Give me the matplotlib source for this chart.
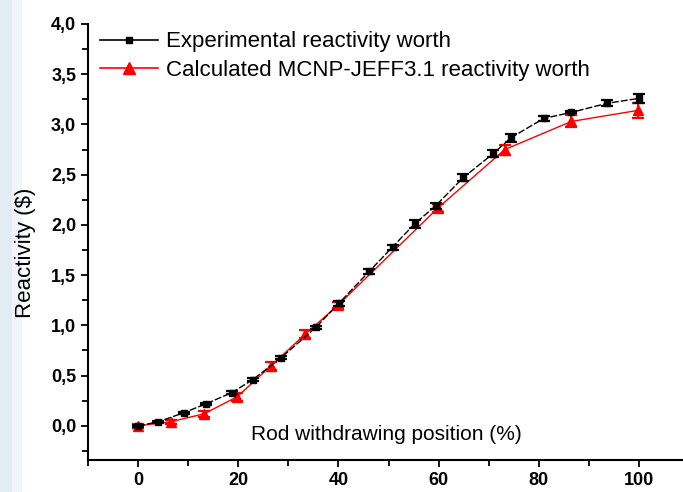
import matplotlib
matplotlib.use("Agg")
import matplotlib.pyplot as plt
from matplotlib.patches import Rectangle
from matplotlib.lines import Line2D
from matplotlib.ticker import MultipleLocator, FixedLocator, FixedFormatter

plt.rcParams['font.family'] = ['Liberation Sans', 'DejaVu Sans']

# Experimental reactivity worth
exp_x = [0, 4.0, 9.1, 13.6, 18.7, 22.9, 28.6, 35.5, 40.1, 46.2, 50.8, 55.2, 59.4, 64.9, 70.9, 74.5, 81.0, 86.5, 93.6, 100]
exp_y = [0.0, 0.04, 0.13, 0.22, 0.33, 0.46, 0.68, 0.98, 1.22, 1.54, 1.78, 2.01, 2.19, 2.47, 2.71, 2.87, 3.06, 3.12, 3.21, 3.26]
exp_err = [0.01, 0.01, 0.01, 0.01, 0.015, 0.015, 0.015, 0.015, 0.025, 0.025, 0.025, 0.04, 0.03, 0.035, 0.035, 0.04, 0.025, 0.01, 0.03, 0.045]

# Calculated MCNP-JEFF3.1 reactivity worth
calc_x = [0, 6.5, 13.2, 19.8, 26.6, 33.3, 39.9, 59.9, 73.2, 86.5, 99.8]
calc_y = [0.0, 0.04, 0.12, 0.29, 0.60, 0.91, 1.20, 2.17, 2.75, 3.03, 3.14]
calc_err = [0.02, 0.02, 0.03, 0.04, 0.04, 0.04, 0.03, 0.04, 0.05, 0.06, 0.075]

y_ticks = [0.0, 0.5, 1.0, 1.5, 2.0, 2.5, 3.0, 3.5, 4.0]
y_tick_labels = ['0,0', '0,5', '1,0', '1,5', '2,0', '2,5', '3,0', '3,5', '4,0']
x_ticks = [0, 20, 40, 60, 80, 100]
x_tick_labels = ['0', '20', '40', '60', '80', '100']

fig = plt.figure(figsize=(6.83, 4.92), dpi=100)
fig.patches.append(Rectangle((0, 0), 12/683, 1, transform=fig.transFigure,
                             facecolor='#e3ebf3', edgecolor='none', zorder=-2))
fig.patches.append(Rectangle((12/683, 0), 10/683, 1, transform=fig.transFigure,
                             facecolor='#f1f5f9', edgecolor='none', zorder=-2))
ax = fig.add_axes([88/683, 32/492, 1 - 88/683, (460-24)/492])
ax.patch.set_alpha(0)

ax.errorbar(exp_x, exp_y, yerr=exp_err, color='black', lw=1.0, ls=(0, (5, 1.5)),
            marker='s', ms=4.5, capsize=4, capthick=1.6, elinewidth=1.4, zorder=3)
ax.errorbar(calc_x, calc_y, yerr=calc_err, color='red', lw=1.0, marker='^', ms=6.5,
            capsize=4, capthick=1.6, elinewidth=1.4, zorder=2)

ax.set_xlim(-10, 108.8)
ax.set_ylim(-0.34, 4.0)

for s in ['top', 'right']:
    ax.spines[s].set_visible(False)
for s in ['left', 'bottom']:
    ax.spines[s].set_linewidth(1.5)

ax.xaxis.set_major_locator(FixedLocator(x_ticks))
ax.xaxis.set_major_formatter(FixedFormatter(x_tick_labels))
ax.xaxis.set_minor_locator(MultipleLocator(10))
ax.yaxis.set_major_locator(FixedLocator(y_ticks))
ax.yaxis.set_major_formatter(FixedFormatter(y_tick_labels))
ax.yaxis.set_minor_locator(MultipleLocator(0.25))
ax.tick_params(which='both', direction='out', width=1.3)
ax.tick_params(which='major', length=5, labelsize=13)
ax.tick_params(which='minor', length=4)
for lbl in ax.get_xticklabels() + ax.get_yticklabels():
    lbl.set_fontweight('bold')

ax.set_ylabel('Reactivity ($)', fontsize=16)
ax.yaxis.set_label_coords((36 - 88) / 595, 0.476)
ax.text(49.6, -0.09, 'Rod withdrawing position (%)', fontsize=15, ha='center', va='center')

handles = [
    Line2D([], [], color='black', lw=1.2, marker='s', ms=5),
    Line2D([], [], color='red', lw=1.2, marker='^', ms=8),
]
labels = ['Experimental reactivity worth', 'Calculated MCNP-JEFF3.1 reactivity worth']
ax.legend(handles, labels, loc='upper left', bbox_to_anchor=(12/595, 0.983), frameon=False,
          fontsize=16, handlelength=2.6, handletextpad=0.36, labelspacing=0.34,
          borderaxespad=0, borderpad=0)

fig.savefig('out.png', dpi=100)
